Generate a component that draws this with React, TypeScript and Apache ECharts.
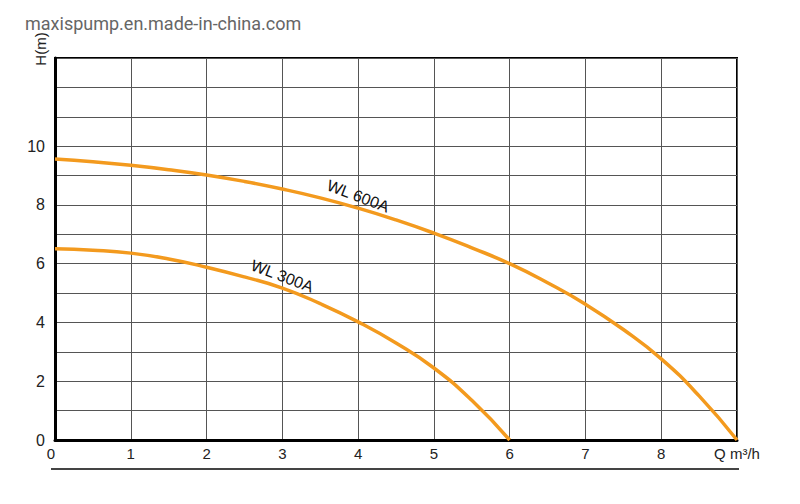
import React, { useEffect, useRef } from "react";
import * as echarts from "echarts";

const flowTicks = [0, 1, 2, 3, 4, 5, 6, 7, 8, 9];
const headLabelValues = [0, 2, 4, 6, 8, 10];
const xUnitLabel = "Q m³/h";
const yUnitLabel = "H(m)";
const watermark = "maxispump.en.made-in-china.com";

const wl600Name = "WL 600A";
const wl600Q = [0, 0.5, 1, 1.5, 2, 2.5, 3, 3.5, 4, 4.5, 5, 5.5, 6, 6.5, 7, 7.5, 8, 8.5, 9];
const wl600H = [9.56, 9.47, 9.35, 9.2, 9.02, 8.8, 8.54, 8.24, 7.89, 7.49, 7.04, 6.54, 6.0, 5.35, 4.62, 3.76, 2.76, 1.5, 0];

const wl300Name = "WL 300A";
const wl300Q = [0, 0.5, 1, 1.5, 2, 2.5, 3, 3.5, 4, 4.5, 5, 5.5, 6];
const wl300H = [6.51, 6.46, 6.36, 6.16, 5.88, 5.55, 5.17, 4.64, 4.02, 3.3, 2.45, 1.35, 0];

const wl600LabelAt = [4.0, 8.3];
const wl300LabelAt = [3.0, 5.58];

const ORANGE = "#F39A1E";

export default function App() {
  const ref = useRef<HTMLDivElement>(null);
  useEffect(() => {
    if (!ref.current) return;
    const chart = echarts.init(ref.current, null, { renderer: "svg" });
    const pair = (q: number[], h: number[]) => q.map((v, i) => [v, h[i]]);
    const option: any = {
      animation: false,
      backgroundColor: "#ffffff",
      grid: {
        left: 55,
        right: 63,
        top: 58,
        bottom: 64,
        show: true,
        borderColor: "#000",
        borderWidth: 2,
        backgroundColor: "transparent",
      },
      xAxis: {
        type: "value",
        min: 0,
        max: 9,
        interval: 1,
        axisLine: { show: true, lineStyle: { color: "#000", width: 3 } },
        axisTick: { show: false },
        splitLine: { show: true, lineStyle: { color: "#555", width: 1 } },
        axisLabel: {
          color: "#222",
          fontSize: 15,
          fontFamily: "Liberation Sans, Arial, sans-serif",
          margin: 6,
          alignMinLabel: "right",
          formatter: (v: number) => (v === 9 ? xUnitLabel : flowTicks.includes(v) ? String(v) : ""),
        },
      },
      yAxis: {
        type: "value",
        min: 0,
        max: 13,
        interval: 1,
        axisLine: { show: true, lineStyle: { color: "#000", width: 3 } },
        axisTick: { show: false },
        splitLine: { show: true, lineStyle: { color: "#555", width: 1 } },
        axisLabel: {
          color: "#222",
          fontSize: 16,
          fontFamily: "Liberation Sans, Arial, sans-serif",
          margin: 10,
          formatter: (v: number) => (headLabelValues.includes(v) ? String(v) : ""),
        },
      },
      series: [
        {
          name: wl600Name,
          type: "line",
          data: pair(wl600Q, wl600H),
          smooth: 0.5,
          showSymbol: false,
          lineStyle: { color: ORANGE, width: 3.5 },
          z: 5,
        },
        {
          name: wl300Name,
          type: "line",
          data: pair(wl300Q, wl300H),
          smooth: 0.5,
          showSymbol: false,
          lineStyle: { color: ORANGE, width: 3.5 },
          z: 5,
        },
      ],
    };
    chart.setOption(option);

    const p600 = chart.convertToPixel({ gridIndex: 0 }, wl600LabelAt) as number[];
    const p300 = chart.convertToPixel({ gridIndex: 0 }, wl300LabelAt) as number[];
    chart.setOption({
      graphic: [
        {
          type: "text",
          x: 25,
          y: 23,
          style: {
            text: watermark,
            fill: "#666",
            font: "18px Roboto, 'Noto Sans', sans-serif",
            textVerticalAlign: "middle",
          },
        },
        {
          type: "text",
          x: 40,
          y: 49,
          rotation: Math.PI / 2,
          style: {
            text: yUnitLabel,
            fill: "#222",
            font: "15px 'Liberation Sans', Arial, sans-serif",
            textAlign: "center",
            textVerticalAlign: "middle",
          },
        },
        {
          type: "line",
          shape: { x1: 51, y1: 469, x2: 739, y2: 469 },
          style: { stroke: "#444", lineWidth: 2 },
        },
        {
          type: "text",
          x: p600[0],
          y: p600[1],
          rotation: -0.36,
          z: 10,
          style: {
            text: wl600Name,
            fill: "#111",
            font: "16px 'Liberation Sans', Arial, sans-serif",
            textAlign: "center",
            textVerticalAlign: "middle",
          },
        },
        {
          type: "text",
          x: p300[0],
          y: p300[1],
          rotation: -0.36,
          z: 10,
          style: {
            text: wl300Name,
            fill: "#111",
            font: "16px 'Liberation Sans', Arial, sans-serif",
            textAlign: "center",
            textVerticalAlign: "middle",
          },
        },
      ],
    });
    return () => chart.dispose();
  }, []);
  return (
    <div
      ref={ref}
      style={{ position: "fixed", left: 0, top: 0, width: 800, height: 504, background: "#fff" }}
    />
  );
}
